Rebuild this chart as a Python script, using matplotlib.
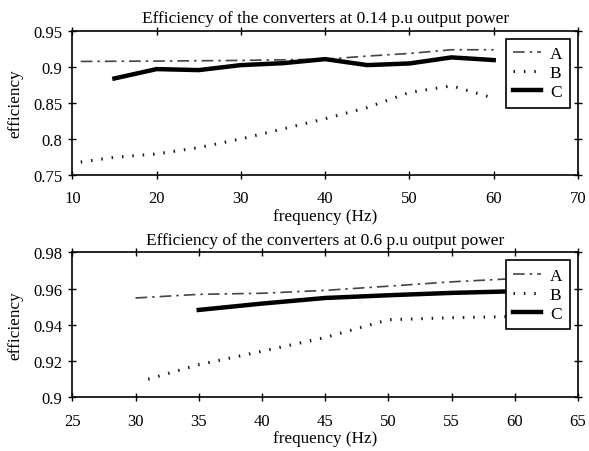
import matplotlib
matplotlib.use("Agg")
import matplotlib.pyplot as plt

plt.rcParams['font.family'] = ['Liberation Serif', 'DejaVu Serif']
plt.rcParams['font.size'] = 12

# Top panel: 0.14 p.u output power
freq_a1 = [11, 20, 30, 40, 45, 50, 55, 60]
eff_a1 = [0.9074, 0.9079, 0.9088, 0.9105, 0.9148, 0.9185, 0.9236, 0.9236]
freq_b1 = [11, 15, 20, 25, 30, 35, 40, 45, 50, 55, 60]
eff_b1 = [0.768, 0.7745, 0.7792, 0.788, 0.800, 0.8139, 0.828, 0.8435, 0.8644, 0.8736, 0.8565]
freq_c1 = [15, 20, 25, 30, 35, 40, 45, 50, 55, 60]
eff_c1 = [0.8838, 0.8968, 0.8954, 0.9023, 0.905, 0.9106, 0.9023, 0.9046, 0.913, 0.9093]

# Bottom panel: 0.6 p.u output power
freq_a2 = [30, 35, 40, 45, 50, 55, 60]
eff_a2 = [0.9548, 0.9568, 0.9574, 0.959, 0.9613, 0.9637, 0.9655]
freq_b2 = [31, 35, 40, 45, 50, 55, 60]
eff_b2 = [0.910, 0.918, 0.9254, 0.933, 0.9428, 0.9439, 0.9446]
freq_c2 = [35, 40, 45, 50, 55, 60]
eff_c2 = [0.9482, 0.9517, 0.9548, 0.9563, 0.9576, 0.9585]

labels = ['A', 'B', 'C']
titles = ['Efficiency of the converters at 0.14 p.u output power',
          'Efficiency of the converters at 0.6 p.u output power']
xticks1 = [10, 20, 30, 40, 50, 60, 70]
yticks1 = [0.75, 0.8, 0.85, 0.9, 0.95]
xticks2 = [25, 30, 35, 40, 45, 50, 55, 60, 65]
yticks2 = [0.9, 0.92, 0.94, 0.96, 0.98]

fig = plt.figure(figsize=(5.89, 4.52), dpi=100)
W, H = 589, 452

def make_ax(left, right, top, bottom):
    return fig.add_axes([left / W, 1 - bottom / H, (right - left) / W, (bottom - top) / H])

ax1 = make_ax(72.3, 578, 31.7, 176)
ax2 = make_ax(72.3, 578, 253.3, 398.3)

styleA = dict(color='#444444', lw=1.2, linestyle=(0, (7, 3, 1.5, 3)))
styleB = dict(color='#1a1a1a', lw=2.2, linestyle=(0, (0.5, 2.9)))
styleC = dict(color='black', lw=3.2, linestyle='-')

def draw(ax, fa, ea, fb, eb, fc, ec, xt, yt, title):
    ax.plot(fa, ea, label=labels[0], **styleA)
    ax.plot(fb, eb, label=labels[1], **styleB)
    ax.plot(fc, ec, label=labels[2], **styleC)
    ax.set_xlim(xt[0], xt[-1])
    ax.set_ylim(yt[0], yt[-1])
    ax.set_xticks(xt)
    ax.set_xticklabels([str(v) for v in xt])
    ax.set_yticks(yt)
    ax.set_yticklabels([f'{v:g}' for v in yt])
    ax.tick_params(direction='inout', top=True, right=True, length=6, width=1, labelsize=12)
    ax.tick_params(axis='x', pad=8)
    ax.tick_params(axis='y', pad=4)
    for s in ax.spines.values():
        s.set_linewidth(1.2)
    ax.set_xlabel('frequency (Hz)', fontsize=12.3, labelpad=1)
    ax.set_ylabel('efficiency', fontsize=12.3, labelpad=7)
    ax.set_title(title, fontsize=12.5, pad=6)
    leg = ax.legend(loc='upper right', fancybox=False, framealpha=1, edgecolor='black',
                    fontsize=12.5, handlelength=1.6, borderaxespad=0.45, labelspacing=0.15,
                    handletextpad=0.5, borderpad=0.45)
    leg.get_frame().set_linewidth(1.2)

draw(ax1, freq_a1, eff_a1, freq_b1, eff_b1, freq_c1, eff_c1, xticks1, yticks1, titles[0])
draw(ax2, freq_a2, eff_a2, freq_b2, eff_b2, freq_c2, eff_c2, xticks2, yticks2, titles[1])

fig.savefig('out.png', dpi=100)
